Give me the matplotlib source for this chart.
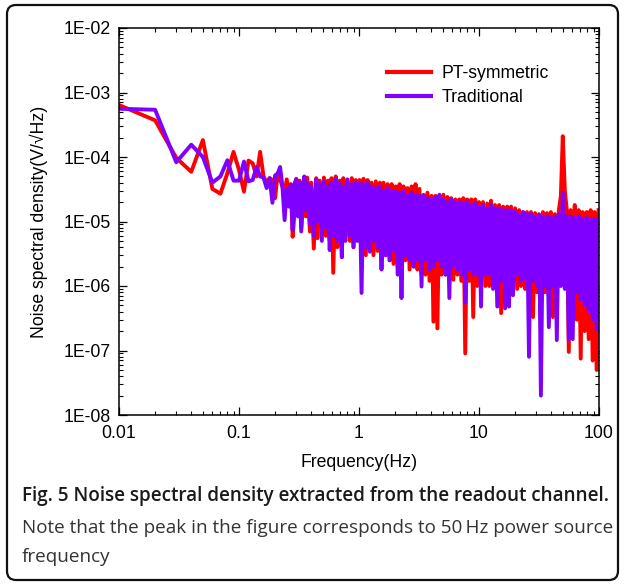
import numpy as np
import matplotlib
matplotlib.use('Agg')
import matplotlib.pyplot as plt
from matplotlib.patches import FancyBboxPatch
from matplotlib.ticker import FixedLocator, LogLocator, NullFormatter, FixedFormatter

plt.rcParams['font.family'] = ['Liberation Sans', 'DejaVu Sans']

# ---------------- data ----------------
freq_low = [0.01, 0.02, 0.03, 0.04, 0.05, 0.06, 0.07, 0.08, 0.09, 0.10,
            0.11, 0.12, 0.13, 0.14, 0.15, 0.16, 0.17, 0.18, 0.19, 0.20,
            0.21, 0.22, 0.23, 0.24, 0.25, 0.26, 0.27, 0.28, 0.29]

freq_high = [0.30, 0.31, 0.32, 0.33, 0.35, 0.36, 0.37, 0.39, 0.40, 0.42,
             0.44, 0.45, 0.47, 0.49, 0.51, 0.53, 0.55, 0.57, 0.59, 0.61,
             0.64, 0.66, 0.69, 0.72, 0.74, 0.77, 0.80, 0.84, 0.87, 0.90,
             0.94, 0.97, 1.01, 1.05, 1.09, 1.14, 1.18, 1.23, 1.27, 1.32,
             1.38, 1.43, 1.49, 1.54, 1.60, 1.67, 1.73, 1.80, 1.87, 1.94,
             2.02, 2.10, 2.18, 2.26, 2.35, 2.44, 2.54, 2.64, 2.74, 2.85,
             2.96, 3.07, 3.19, 3.32, 3.45, 3.58, 3.72, 3.87, 4.02, 4.17,
             4.34, 4.50, 4.68, 4.86, 5.05, 5.25, 5.45, 5.66, 5.88, 6.11,
             6.35, 6.60, 6.85, 7.12, 7.40, 7.68, 7.98, 8.30, 8.62, 8.95,
             9.30, 9.67, 10.0, 10.4, 10.8, 11.3, 11.7, 12.2, 12.6, 13.1,
             13.6, 14.2, 14.7, 15.3, 15.9, 16.5, 17.2, 17.8, 18.5, 19.2,
             20.0, 20.8, 21.6, 22.4, 23.3, 24.2, 25.1, 26.1, 27.1, 28.2,
             29.3, 30.4, 31.6, 32.8, 34.1, 35.4, 36.8, 38.2, 39.7, 41.3,
             42.9, 44.5, 46.3, 48.1, 49.9, 51.9, 53.9, 56.0, 58.1, 60.4,
             62.8, 65.2, 67.7, 70.4, 73.1, 75.9, 78.9, 82.0, 85.2, 88.5,
             91.9, 95.5, 99.2]

pt_low = [6.4e-4, 3.7e-4, 9.7e-5, 5.9e-5, 1.83e-4, 3.2e-5, 2.7e-5, 5.6e-5, 1.2e-4, 6.3e-5,
          2.9e-5, 8.8e-5, 8.0e-5, 5.0e-5, 1.2e-4, 5.0e-5, 4.0e-5, 4.7e-5, 4.4e-5, 2.3e-5,
          5.6e-5, 4.5e-5, 3.5e-5, 2.8e-5, 4.5e-5, 2.7e-5, 3.8e-5, 5.8e-6, 1.35e-5]

pt_high = [4.6e-5, 1.3e-5, 4.3e-5, 8.0e-6, 4.5e-5, 1.2e-5, 4.8e-5, 7.0e-6, 4.0e-5, 3.8e-6,
           4.7e-5, 5.5e-6, 4.3e-5, 8.0e-6, 4.8e-5, 6.0e-6, 4.3e-5, 5.0e-6, 4.7e-5, 1.6e-6,
           5.0e-5, 4.0e-6, 4.3e-5, 2.8e-6, 4.7e-5, 6.0e-6, 4.3e-5, 5.0e-6, 4.7e-5, 4.0e-6,
           4.4e-5, 6.0e-6, 4.4e-5, 5.0e-6, 4.6e-5, 3.0e-6, 4.4e-5, 4.0e-6, 4.0e-5, 3.0e-6,
           4.2e-5, 3.5e-6, 4.0e-5, 2.5e-6, 4.0e-5, 3.0e-6, 3.8e-5, 2.5e-6, 3.8e-5, 2.2e-6,
           3.5e-5, 2.0e-6, 3.8e-5, 1.25e-6, 3.5e-5, 2.5e-6, 3.3e-5, 1.8e-6, 3.5e-5, 2.0e-6,
           3.8e-5, 1.8e-6, 3.2e-5, 1.5e-6, 2.6e-5, 1.5e-6, 2.8e-5, 1.2e-6, 2.5e-5, 2.8e-7,
           2.5e-5, 2.2e-7, 2.5e-5, 1.5e-6, 2.6e-5, 1.5e-6, 2.4e-5, 1.2e-6, 2.3e-5, 1.25e-6,
           2.2e-5, 1.5e-6, 2.2e-5, 1.2e-6, 2.3e-5, 9.0e-8, 2.2e-5, 1.2e-6, 2.2e-5, 3.3e-7,
           2.2e-5, 1.0e-6, 2.0e-5, 1.2e-6, 2.0e-5, 1.0e-6, 1.9e-5, 1.0e-6, 2.1e-5, 1.2e-6,
           1.8e-5, 1.0e-6, 1.8e-5, 3.8e-7, 1.7e-5, 1.0e-6, 1.7e-5, 1.2e-6, 1.7e-5, 1.0e-6,
           1.6e-5, 9.0e-7, 1.5e-5, 1.0e-6, 1.4e-5, 9.0e-7, 1.4e-5, 8.0e-7, 1.4e-5, 3.3e-7,
           1.35e-5, 8.0e-7, 1.3e-5, 1.0e-6, 1.4e-5, 8.0e-7, 1.35e-5, 7.0e-7, 1.4e-5, 3.3e-7,
           1.3e-5, 8.0e-7, 1.5e-5, 2.5e-5, 2.1e-4, 3.0e-5, 1.5e-5, 9.5e-8, 1.5e-5, 5.0e-7,
           1.8e-5, 3.0e-7, 1.5e-5, 7.5e-8, 1.4e-5, 2.0e-7, 1.4e-5, 1.5e-7, 1.5e-5, 7.0e-8,
           1.4e-5, 5.0e-8, 1.5e-5]

trad_low = [5.6e-4, 5.4e-4, 8.3e-5, 1.55e-4, 1.0e-4, 4.0e-5, 5.0e-5, 8.9e-5, 4.3e-5, 4.3e-5,
            8.5e-5, 4.2e-5, 4.4e-5, 7.0e-5, 5.0e-5, 4.8e-5, 3.3e-5, 4.7e-5, 1.95e-5, 5.2e-5,
            5.5e-5, 7.0e-5, 3.5e-5, 1.05e-5, 3.2e-5, 1.7e-5, 3.7e-5, 7.4e-6, 3.9e-5]

trad_high = [4.5e-5, 1.2e-5, 4.0e-5, 7.0e-6, 5.0e-5, 1.5e-5, 4.0e-5, 9.0e-6, 3.5e-5, 6.0e-6,
             4.5e-5, 1.0e-5, 3.8e-5, 5.0e-6, 4.2e-5, 8.0e-6, 3.5e-5, 3.6e-6, 4.0e-5, 6.0e-6,
             4.5e-5, 5.0e-6, 4.0e-5, 2.8e-6, 3.5e-5, 5.0e-6, 4.5e-5, 6.0e-6, 3.8e-5, 4.0e-6,
             4.0e-5, 5.0e-6, 4.0e-5, 7.8e-7, 3.8e-5, 4.0e-6, 4.0e-5, 3.4e-6, 3.5e-5, 5.0e-6,
             3.3e-5, 4.0e-6, 3.5e-5, 1.8e-6, 3.0e-5, 3.0e-6, 3.3e-5, 2.5e-6, 3.0e-5, 3.5e-6,
             3.0e-5, 1.5e-6, 2.8e-5, 6.5e-7, 3.0e-5, 3.0e-6, 2.6e-5, 2.5e-6, 2.8e-5, 2.0e-6,
             2.6e-5, 2.5e-6, 2.5e-5, 9.8e-7, 2.5e-5, 2.5e-6, 2.3e-5, 1.8e-6, 2.2e-5, 2.0e-6,
             2.4e-5, 2.5e-6, 2.6e-5, 2.0e-6, 2.2e-5, 1.5e-6, 2.0e-5, 6.5e-7, 2.2e-5, 2.0e-6,
             2.0e-5, 1.8e-6, 2.0e-5, 1.5e-6, 1.9e-5, 5.5e-7, 2.0e-5, 1.8e-6, 1.8e-5, 1.5e-6,
             1.9e-5, 1.5e-6, 1.7e-5, 4.8e-7, 1.8e-5, 1.5e-6, 1.6e-5, 1.5e-6, 1.8e-5, 9.0e-7,
             1.6e-5, 4.8e-7, 1.6e-5, 1.2e-6, 1.5e-5, 4.5e-7, 1.5e-5, 4.8e-7, 1.5e-5, 7.2e-7,
             1.4e-5, 1.5e-6, 1.3e-5, 1.2e-6, 1.4e-5, 1.3e-6, 1.3e-5, 8.0e-8, 1.3e-5, 1.2e-6,
             1.2e-5, 1.0e-6, 1.25e-5, 2.0e-8, 1.2e-5, 1.0e-6, 1.2e-5, 2.3e-7, 1.15e-5, 1.0e-6,
             1.2e-5, 1.45e-7, 1.3e-5, 1.0e-6, 2.8e-5, 9.0e-7, 1.2e-5, 1.5e-7, 1.2e-5, 1.5e-7,
             1.15e-5, 8.0e-7, 1.2e-5, 6.0e-7, 1.1e-5, 5.0e-7, 1.15e-5, 4.0e-7, 1.1e-5, 3.0e-7,
             1.1e-5, 2.1e-7, 1.1e-5]

series_names = ['PT-symmetric', 'Traditional']
series_colors = ['#FF0000', '#8000FF']

x_ticks = [0.01, 0.1, 1, 10, 100]
x_tick_labels = ['0.01', '0.1', '1', '10', '100']
y_ticks = [1e-8, 1e-7, 1e-6, 1e-5, 1e-4, 1e-3, 1e-2]
y_tick_labels = ['1E-08', '1E-07', '1E-06', '1E-05', '1E-04', '1E-03', '1E-02']

x_label = 'Frequency(Hz)'
y_label = 'Noise spectral density(V/\u221aHz)'
caption_bold = 'Fig. 5 Noise spectral density extracted from the readout channel.'
caption_line2 = 'Note that the peak in the figure corresponds to 50\u2009Hz power source'
caption_line3 = 'frequency'

# ---------------- figure ----------------
W, H = 625, 585
fig = plt.figure(figsize=(W / 100, H / 100), dpi=100)
fig.patch.set_facecolor('white')

frame = FancyBboxPatch((0.07, 0.05), 6.11, 5.75,
                       boxstyle='round,pad=0,rounding_size=0.09',
                       transform=fig.dpi_scale_trans, fill=False,
                       lw=1.6, ec='#111111')
fig.patches.append(frame)

ax = fig.add_axes([119 / W, 1 - 415 / H, 480 / W, 387 / H])

freqs = np.array(freq_low + freq_high)
pt_vals = np.array(pt_low + pt_high)
trad_vals = np.array(trad_low + trad_high)

ax.plot(freqs, pt_vals, color=series_colors[0], lw=2.8, label=series_names[0],
        solid_joinstyle='round')
ax.plot(freqs, trad_vals, color=series_colors[1], lw=2.8, label=series_names[1],
        solid_joinstyle='round')

ax.set_xscale('log')
ax.set_yscale('log')
ax.set_xlim(0.01, 100)
ax.set_ylim(1e-8, 1e-2)

ax.xaxis.set_major_locator(FixedLocator(x_ticks))
ax.xaxis.set_major_formatter(FixedFormatter(x_tick_labels))
ax.yaxis.set_major_locator(FixedLocator(y_ticks))
ax.yaxis.set_major_formatter(FixedFormatter(y_tick_labels))
ax.xaxis.set_minor_locator(LogLocator(base=10, subs=np.arange(2, 10), numticks=20))
ax.yaxis.set_minor_locator(LogLocator(base=10, subs=np.arange(2, 10), numticks=20))
ax.xaxis.set_minor_formatter(NullFormatter())
ax.yaxis.set_minor_formatter(NullFormatter())

FS = 12.7
ax.tick_params(which='both', direction='in', top=True, right=True,
               labelsize=FS, colors='black')
ax.tick_params(which='major', length=5.5, width=0.9)
ax.tick_params(which='minor', length=3.2, width=0.8)
ax.tick_params(axis='x', which='major', pad=7)
ax.tick_params(axis='y', which='major', pad=6)
for s in ax.spines.values():
    s.set_linewidth(1.1)

ax.set_xlabel(x_label, fontsize=FS, labelpad=9)
ax.set_ylabel(y_label, fontsize=FS, labelpad=11)

leg = ax.legend(loc='upper left', bbox_to_anchor=(0.558, 0.905), frameon=False,
                fontsize=FS, handlelength=2.5, handletextpad=0.62,
                labelspacing=0.42, borderpad=0, borderaxespad=0)
for line in leg.get_lines():
    line.set_linewidth(3.0)

# caption
cap_font = ['Open Sans', 'DejaVu Sans']
fig.text(22 / W, 1 - 496 / H, caption_bold, fontsize=13.6, fontweight='semibold',
         family=cap_font, ha='left', va='center', color='#1a1a1a')
fig.text(22 / W, 1 - 528 / H, caption_line2, fontsize=13.6,
         family=cap_font, ha='left', va='center', color='#333333')
fig.text(22 / W, 1 - 557 / H, caption_line3, fontsize=13.6,
         family=cap_font, ha='left', va='center', color='#333333')

fig.savefig('out.png', dpi=100, facecolor='white')
